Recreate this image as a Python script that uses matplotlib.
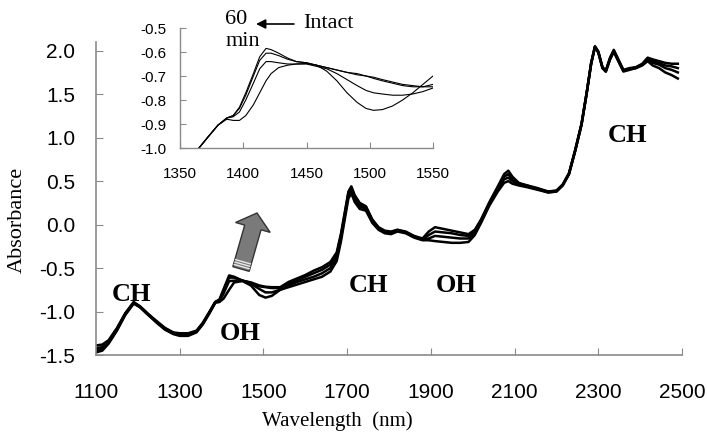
import matplotlib
matplotlib.use("Agg")
import matplotlib.pyplot as plt
from matplotlib.patches import Polygon
import numpy as np

plt.rcParams['axes.unicode_minus'] = False

# ---------------- data: main spectrum ----------------
wl_main = [1100, 1115, 1130, 1150, 1170, 1190, 1205, 1225, 1245, 1265, 1285, 1300,
           1320, 1340, 1355, 1370, 1385, 1395, 1405, 1418, 1430, 1450, 1470, 1490,
           1505, 1520, 1540, 1560, 1580, 1600, 1620, 1640, 1660, 1675, 1685, 1695,
           1703, 1710, 1718, 1730, 1745, 1760, 1775, 1790, 1805, 1820, 1840, 1860,
           1880, 1895, 1910, 1930, 1950, 1970, 1990, 2005, 2020, 2040, 2060, 2075,
           2085, 2095, 2110, 2130, 2155, 2180, 2200, 2215, 2230, 2245, 2260, 2272,
           2283, 2292, 2300, 2310, 2318, 2328, 2337, 2348, 2360, 2375, 2390, 2405,
           2418, 2430, 2445, 2460, 2475, 2490]

abs_intact = [-1.47, -1.45, -1.37, -1.22, -1.04, -0.91, -0.95, -1.04, -1.13, -1.21, -1.26, -1.28,
              -1.28, -1.24, -1.15, -1.03, -0.90, -0.89, -0.85, -0.75, -0.665, -0.65, -0.70, -0.81,
              -0.84, -0.82, -0.75, -0.72, -0.69, -0.66, -0.63, -0.60, -0.54, -0.42, -0.20, 0.08,
              0.30, 0.36, 0.26, 0.18, 0.16, 0.02, -0.06, -0.10, -0.11, -0.08, -0.10, -0.15,
              -0.18, -0.18, -0.19, -0.20, -0.21, -0.21, -0.20, -0.12, 0.02, 0.22, 0.38, 0.48,
              0.50, 0.47, 0.45, 0.43, 0.40, 0.37, 0.38, 0.45, 0.58, 0.85, 1.15, 1.50,
              1.85, 2.04, 1.98, 1.80, 1.76, 1.90, 1.99, 1.88, 1.76, 1.78, 1.80, 1.83,
              1.88, 1.83, 1.80, 1.75, 1.72, 1.68]

abs_t1 = [-1.45, -1.43, -1.36, -1.21, -1.03, -0.90, -0.95, -1.04, -1.12, -1.20, -1.25, -1.27,
          -1.27, -1.23, -1.14, -1.02, -0.89, -0.88, -0.79, -0.65, -0.645, -0.645, -0.68, -0.74,
          -0.78, -0.78, -0.75, -0.70, -0.66, -0.63, -0.60, -0.56, -0.50, -0.38, -0.16, 0.12,
          0.34, 0.40, 0.30, 0.21, 0.18, 0.04, -0.05, -0.09, -0.10, -0.07, -0.09, -0.14,
          -0.17, -0.16, -0.13, -0.14, -0.15, -0.16, -0.16, -0.10, 0.04, 0.24, 0.40, 0.52,
          0.54, 0.50, 0.46, 0.44, 0.41, 0.37, 0.38, 0.45, 0.58, 0.85, 1.15, 1.50,
          1.85, 2.04, 1.98, 1.80, 1.76, 1.90, 1.99, 1.88, 1.77, 1.79, 1.80, 1.84,
          1.90, 1.86, 1.84, 1.80, 1.78, 1.75]

abs_t2 = [-1.42, -1.41, -1.35, -1.20, -1.02, -0.90, -0.94, -1.03, -1.12, -1.19, -1.25, -1.26,
          -1.26, -1.23, -1.14, -1.02, -0.89, -0.87, -0.76, -0.61, -0.61, -0.645, -0.67, -0.71,
          -0.72, -0.73, -0.73, -0.68, -0.64, -0.60, -0.56, -0.52, -0.46, -0.35, -0.13, 0.14,
          0.36, 0.42, 0.32, 0.23, 0.20, 0.05, -0.04, -0.08, -0.09, -0.06, -0.09, -0.14,
          -0.17, -0.12, -0.08, -0.09, -0.10, -0.12, -0.13, -0.08, 0.05, 0.25, 0.42, 0.55,
          0.58, 0.52, 0.47, 0.45, 0.41, 0.38, 0.39, 0.46, 0.59, 0.86, 1.16, 1.51,
          1.86, 2.05, 1.99, 1.81, 1.77, 1.91, 2.00, 1.89, 1.77, 1.79, 1.81, 1.84,
          1.91, 1.88, 1.86, 1.83, 1.82, 1.80]

abs_60min = [-1.39, -1.38, -1.33, -1.19, -1.02, -0.89, -0.94, -1.03, -1.11, -1.19, -1.24, -1.25,
             -1.25, -1.22, -1.13, -1.01, -0.89, -0.86, -0.74, -0.585, -0.60, -0.645, -0.665, -0.70,
             -0.715, -0.72, -0.72, -0.66, -0.62, -0.58, -0.53, -0.49, -0.43, -0.32, -0.11, 0.16,
             0.38, 0.44, 0.34, 0.25, 0.21, 0.06, -0.03, -0.07, -0.08, -0.06, -0.08, -0.13,
             -0.16, -0.08, -0.03, -0.05, -0.07, -0.09, -0.11, -0.06, 0.06, 0.26, 0.44, 0.58,
             0.62, 0.55, 0.48, 0.45, 0.42, 0.38, 0.39, 0.46, 0.59, 0.86, 1.16, 1.51,
             1.86, 2.05, 1.99, 1.81, 1.77, 1.92, 2.01, 1.90, 1.78, 1.80, 1.81, 1.85,
             1.92, 1.90, 1.88, 1.86, 1.85, 1.85]

# ---------------- data: inset (1350-1550 nm) ----------------
wl_inset = [1365, 1372, 1380, 1387, 1392, 1397, 1402, 1408, 1413, 1418, 1422, 1428, 1435, 1442,
            1450, 1458, 1466, 1474, 1482, 1490, 1497, 1503, 1510, 1518, 1526, 1534, 1542, 1550]
ins_60min = [-1.00, -0.955, -0.905, -0.875, -0.865, -0.83, -0.77, -0.69, -0.62, -0.585, -0.59,
             -0.605, -0.625, -0.64, -0.645, -0.655, -0.665, -0.675, -0.685, -0.69, -0.70, -0.705,
             -0.715, -0.725, -0.735, -0.74, -0.745, -0.745]
ins_t2 = [-1.00, -0.955, -0.905, -0.875, -0.865, -0.835, -0.78, -0.70, -0.635, -0.605, -0.605,
          -0.615, -0.63, -0.64, -0.645, -0.655, -0.665, -0.675, -0.685, -0.695, -0.70, -0.71,
          -0.72, -0.73, -0.74, -0.745, -0.745, -0.735]
ins_t1 = [-1.00, -0.955, -0.905, -0.875, -0.87, -0.85, -0.80, -0.73, -0.67, -0.64, -0.64,
          -0.645, -0.65, -0.65, -0.65, -0.66, -0.67, -0.69, -0.715, -0.74, -0.76, -0.77,
          -0.775, -0.78, -0.78, -0.775, -0.765, -0.75]
ins_intact = [-1.00, -0.955, -0.905, -0.88, -0.885, -0.885, -0.865, -0.82, -0.77, -0.72, -0.69,
              -0.665, -0.655, -0.65, -0.648, -0.655, -0.68, -0.72, -0.77, -0.81, -0.835, -0.843,
              -0.84, -0.825, -0.80, -0.77, -0.735, -0.70]

main_xticks = [1100, 1300, 1500, 1700, 1900, 2100, 2300, 2500]
main_yticks = [-1.5, -1.0, -0.5, 0.0, 0.5, 1.0, 1.5, 2.0]
inset_xticks = [1350, 1400, 1450, 1500, 1550]
inset_yticks = [-1.0, -0.9, -0.8, -0.7, -0.6, -0.5]

band_labels = ["CH", "OH", "CH", "OH", "CH"]
band_x = [1184, 1444, 1750, 1960, 2369]
band_y = [-0.80, -1.25, -0.70, -0.70, 1.02]

SERIF = 'Liberation Serif'
SANS = 'Liberation Sans'
GRAY = '#8a8a8a'

W, H = 707, 440
fig = plt.figure(figsize=(W / 100, H / 100), dpi=100)

# ---------------- main axes ----------------
ax = fig.add_axes([96 / W, (H - 355) / H, 586 / W, (355 - 42) / H])
for s in [abs_intact, abs_t1, abs_t2, abs_60min]:
    ax.plot(wl_main, s, color='black', lw=1.8, solid_joinstyle='round')
ax.set_xlim(1100, 2500)
ax.set_ylim(-1.5, 2.1)
ax.set_xticks(main_xticks)
ax.set_yticks(main_yticks)
ax.set_xticklabels([str(v) for v in main_xticks], fontfamily=SANS, fontsize=15)
ax.set_yticklabels([f"{v:.1f}" for v in main_yticks], fontfamily=SANS, fontsize=15)
ax.tick_params(axis='x', direction='in', length=5, color=GRAY, pad=20)
ax.tick_params(axis='y', direction='in', length=5, color=GRAY, pad=15)
for side in ['top', 'right']:
    ax.spines[side].set_visible(False)
for side in ['left', 'bottom']:
    ax.spines[side].set_color(GRAY)
    ax.spines[side].set_linewidth(1.2)

for lab, x, y in zip(band_labels, band_x, band_y):
    ax.text(x, y, lab, fontfamily=SERIF, fontweight='bold', fontsize=19,
            ha='center', va='center')

fig.text(17 / W, 1 - 220 / H, "Absorbance", rotation=90, fontfamily=SERIF,
         fontsize=16, ha='center', va='center')
fig.text(337 / W, 1 - 421 / H, "Wavelength  (nm)", fontfamily=SERIF,
         fontsize=15, ha='center', va='center')

# ---------------- inset ----------------
axi = fig.add_axes([180 / W, (H - 148) / H, 253 / W, 120 / H])
for s in [ins_intact, ins_t1, ins_t2, ins_60min]:
    axi.plot(wl_inset, s, color='black', lw=0.8)
axi.set_xlim(1350, 1550)
axi.set_ylim(-1.0, -0.5)
axi.set_xticks(inset_xticks)
axi.set_yticks(inset_yticks)
axi.set_xticklabels([str(v) for v in inset_xticks], fontfamily=SANS, fontsize=11)
axi.set_yticklabels([f"{v:.1f}" for v in inset_yticks], fontfamily=SANS, fontsize=11)
axi.tick_params(axis='x', direction='in', length=4, color=GRAY, pad=14)
axi.tick_params(axis='y', direction='in', length=4, color=GRAY, pad=10)
axi.patch.set_alpha(0)
for side in ['top', 'right']:
    axi.spines[side].set_visible(False)
for side in ['left', 'bottom']:
    axi.spines[side].set_color(GRAY)
    axi.spines[side].set_linewidth(1.0)

# ---------------- overlay (pixel coords) for annotations ----------------
ov = fig.add_axes([0, 0, 1, 1], zorder=5)
ov.set_xlim(0, W)
ov.set_ylim(H, 0)
ov.axis('off')
ov.patch.set_alpha(0)

ov.text(236, 19, "60", fontfamily=SERIF, fontsize=16, ha='center', va='center')
ov.text(243, 41, "min", fontfamily=SERIF, fontsize=16, ha='center', va='center')
ov.text(303, 23, "Intact", fontfamily=SERIF, fontsize=16, ha='left', va='center')
ov.annotate("", xy=(256, 24), xytext=(294, 24),
            arrowprops=dict(arrowstyle='-|>', color='black', lw=1.2,
                            mutation_scale=14, shrinkA=0, shrinkB=0))

# block arrow
tip = np.array([257.0, 213.0])
base = np.array([241.0, 269.0])
u = (tip - base) / np.linalg.norm(tip - base)
n = np.array([-u[1], u[0]])
if n[0] < 0:
    n = -n
hb = tip - 15 * u
sw, hw = 8.5, 18.0
pts = [tip, hb + hw * n, hb + sw * n, base + sw * n, base - sw * n, hb - sw * n, hb - hw * n]
ov.add_patch(Polygon(pts, closed=True, facecolor='#7a7a7a', edgecolor='#333333', lw=1.0))
for t in [2.5, 5.0, 7.5]:
    a = base + t * u + (sw - 0.8) * n
    b = base + t * u - (sw - 0.8) * n
    ov.plot([a[0], b[0]], [a[1], b[1]], color='#e8e8e8', lw=1.0)

fig.savefig("out.png", dpi=100)
